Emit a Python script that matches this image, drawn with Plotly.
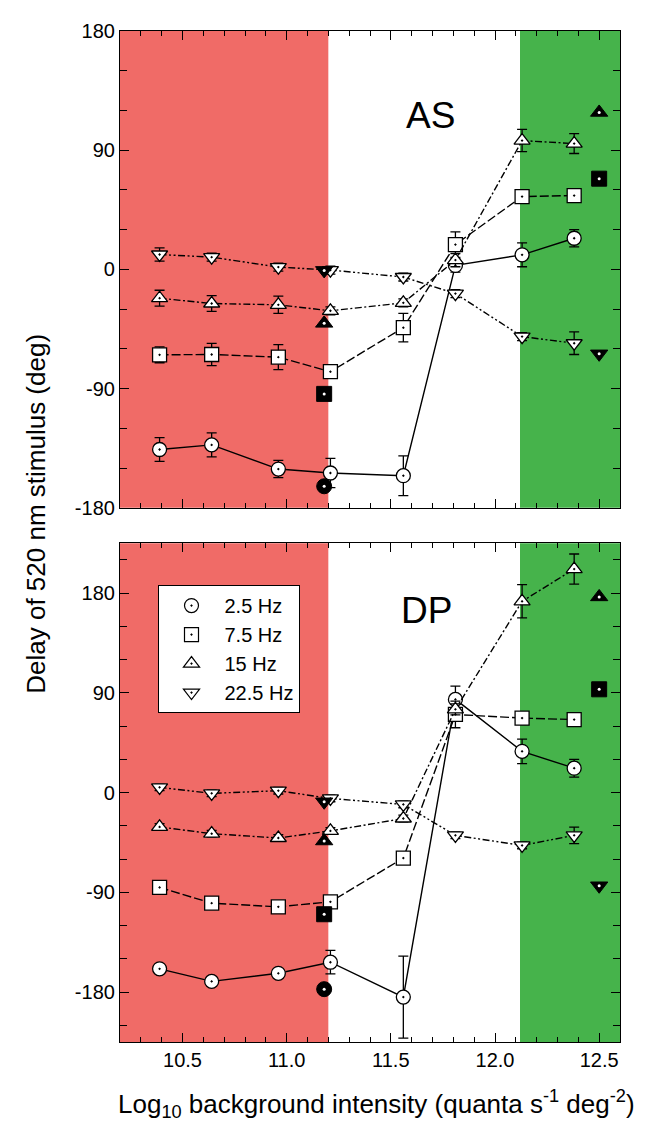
import plotly.graph_objects as go

# ---------------- data ----------------
x_int = [10.39, 10.64, 10.96, 11.21, 11.56, 11.81, 12.13, 12.38]
x_fill_low = 11.18
x_fill_high = 12.50

freqs = ["2.5 Hz", "7.5 Hz", "15 Hz", "22.5 Hz"]

# Subject AS
as_c25 = [-136, -132.5, -150.75, -153.75, -155.75, 3, 11, 23.5]
as_c25_err = [9, 9, 6.5, 11, 15, 5, 9, 6.5]
as_s75 = [-64.5, -64.25, -66.25, -77.25, -44, 18.75, 55, 55.75]
as_s75_err = [6, 8.4, 9.5, 3, 10.75, 9.6, 3, 3]
as_t15 = [-21.75, -25.75, -26.75, -31.25, -25.25, 7, 97.25, 95]
as_t15_err = [6, 6, 6.5, 3, 3, 5, 8.4, 7.5]
as_d225 = [11.25, 9.25, 1.75, -0.5, -5.75, -18.25, -50.75, -55.75]
as_d225_err = [5, 3, 3, 3, 3, 3, 3, 8.5]
# filled (reference) points: [at low x, at high x] ; None = absent
as_fill = {
    "2.5 Hz": [-163.75, None],
    "7.5 Hz": [-94, 68.5],
    "15 Hz": [-40.75, 118.5],
    "22.5 Hz": [-0.75, -63.75],
}

# Subject DP
dp_c25 = [-159, -170.3, -163, -153, -184.5, 84.2, 37.3, 22.1]
dp_c25_err = [3, 3, 3, 10.6, 37, 12, 11, 8]
dp_s75 = [-85.5, -99.7, -103, -98.5, -59, 70.6, 67.3, 66]
dp_s75_err = [3, 3, 3, 3, 3, 12, 3, 3]
dp_t15 = [-30.9, -37, -40.9, -34.5, -23.3, 75.2, 172.7, 201.8]
dp_t15_err = [3, 3, 3, 3, 3, 5, 15, 13.6]
dp_d225 = [4.8, -0.6, 1.8, -5.2, -10.6, -38.5, -47.6, -38.5]
dp_d225_err = [3, 3, 3, 3, 3, 3, 3, 7.5]
dp_fill = {
    "2.5 Hz": [-177.3, None],
    "7.5 Hz": [-109.7, 93.3],
    "15 Hz": [-43.6, 176.7],
    "22.5 Hz": [-8.2, -84],
}

red_band = [10.2, 11.20]
green_band = [12.12, 12.6]
x_range = [10.2, 12.6]
y_range_as = [-180, 180]
y_range_dp = [-225, 225]
x_ticks = [10.5, 11.0, 11.5, 12.0, 12.5]
y_ticks = [-180, -90, 0, 90, 180]

# ---------------- styles ----------------
RED = "#F06B67"
GREEN = "#46B34B"
FONT = "Liberation Sans, Arial, sans-serif"
symbols = {"2.5 Hz": "circle", "7.5 Hz": "square", "15 Hz": "triangle-up", "22.5 Hz": "triangle-down"}
dashes = {
    "2.5 Hz": "solid",
    "7.5 Hz": "9px,3px",
    "15 Hz": "7px,2.5px,2px,2.5px",
    "22.5 Hz": "7px,2.5px,2px,2.5px,2px,2.5px",
}
MS = 14
MS_FILL = 15

fig = go.Figure()

panels = [
    ("x", "y", {"2.5 Hz": (as_c25, as_c25_err), "7.5 Hz": (as_s75, as_s75_err),
                "15 Hz": (as_t15, as_t15_err), "22.5 Hz": (as_d225, as_d225_err)}, as_fill),
    ("x2", "y2", {"2.5 Hz": (dp_c25, dp_c25_err), "7.5 Hz": (dp_s75, dp_s75_err),
                  "15 Hz": (dp_t15, dp_t15_err), "22.5 Hz": (dp_d225, dp_d225_err)}, dp_fill),
]

for xa, ya, series, fills in panels:
    for f in freqs:
        vals, err = series[f]
        fig.add_trace(go.Scatter(
            x=x_int, y=vals, mode="lines+markers", xaxis=xa, yaxis=ya,
            line=dict(color="black", width=1.4, dash=dashes[f]),
            marker=dict(symbol=symbols[f] + "-dot", size=MS, color="white",
                        line=dict(color="black", width=1.3)),
            error_y=dict(type="data", array=err, visible=True, color="black",
                         thickness=1.3, width=5),
            showlegend=False, hoverinfo="skip",
        ))
    for f in freqs:
        fx, fy = [], []
        for xv, yv in zip([x_fill_low, x_fill_high], fills[f]):
            if yv is not None:
                fx.append(xv)
                fy.append(yv)
        fig.add_trace(go.Scatter(
            x=fx, y=fy, mode="markers", xaxis=xa, yaxis=ya,
            marker=dict(symbol=symbols[f], size=MS_FILL, color="black",
                        line=dict(color="black", width=1)),
            showlegend=False, hoverinfo="skip",
        ))
        fig.add_trace(go.Scatter(
            x=fx, y=fy, mode="markers", xaxis=xa, yaxis=ya,
            marker=dict(symbol="circle", size=3, color="white", line=dict(width=0)),
            showlegend=False, hoverinfo="skip",
        ))

# legend entries
for f in freqs:
    fig.add_trace(go.Scatter(
        x=[None], y=[None], mode="markers", name=f, xaxis="x2", yaxis="y2",
        marker=dict(symbol=symbols[f] + "-dot", size=MS, color="white",
                    line=dict(color="black", width=1.2)),
    ))

# background bands
for xref, yref in [("x", "y domain"), ("x2", "y2 domain")]:
    fig.add_shape(type="rect", xref=xref, yref=yref, x0=red_band[0], x1=red_band[1],
                  y0=0, y1=1, fillcolor=RED, line=dict(width=0), layer="below")
    fig.add_shape(type="rect", xref=xref, yref=yref, x0=green_band[0], x1=green_band[1],
                  y0=0, y1=1, fillcolor=GREEN, line=dict(width=0), layer="below")

xaxis_common = dict(
    range=x_range, tickvals=x_ticks, ticktext=[f"{v:.1f}" for v in x_ticks],
    ticks="inside", ticklen=9, tickwidth=1, tickcolor="black",
    minor=dict(dtick=0.1, tick0=10.2, ticks="inside", ticklen=5, tickwidth=1, tickcolor="black"),
    showline=True, linecolor="black", linewidth=1.2, mirror="ticks",
    showgrid=False, zeroline=False,
    tickfont=dict(size=20, color="black", family=FONT),
)
yaxis_common = dict(
    tickvals=y_ticks, ticktext=[str(v) for v in y_ticks],
    ticks="inside", ticklen=9, tickwidth=1, tickcolor="black",
    minor=dict(dtick=30, tick0=0, ticks="inside", ticklen=7, tickwidth=1, tickcolor="black"),
    showline=True, linecolor="black", linewidth=1.2, mirror="ticks",
    showgrid=False, zeroline=False,
    tickfont=dict(size=20, color="black", family=FONT),
)

fig.update_layout(
    width=636, height=1114,
    margin=dict(l=112, r=24, t=12, b=80),
    paper_bgcolor="white", plot_bgcolor="white",
    font=dict(family=FONT, color="black"),
    xaxis=dict(**xaxis_common, anchor="y", showticklabels=False, matches="x2"),
    yaxis=dict(**yaxis_common, range=y_range_as, domain=[0.5284, 1.0], anchor="x"),
    xaxis2=dict(**xaxis_common, anchor="y2"),
    yaxis2=dict(**yaxis_common, range=y_range_dp, domain=[0.0, 0.4932], anchor="x2"),
    legend=dict(x=0.075, y=0.452, xanchor="left", yanchor="top",
                bgcolor="white", bordercolor="black", borderwidth=1,
                font=dict(size=20, family=FONT, color="black"),
                itemwidth=56, tracegroupgap=0),
    annotations=[
        dict(text="AS", x=11.69, y=116, xref="x", yref="y", showarrow=False,
             font=dict(size=37, family=FONT, color="black")),
        dict(text="DP", x=11.67, y=164.5, xref="x2", yref="y2", showarrow=False,
             font=dict(size=37, family=FONT, color="black")),
        dict(text="Delay of 520 nm stimulus (deg)", x=-0.168, y=0.5225, xref="paper", yref="paper",
             textangle=-90, showarrow=False, xanchor="center", yanchor="middle",
             font=dict(size=26, family=FONT, color="black")),
        dict(text="Log<sub>10</sub> background intensity (quanta s<sup>-1</sup> deg<sup>-2</sup>)",
             x=0.512, y=-0.061, xref="paper", yref="paper", showarrow=False,
             xanchor="center", yanchor="middle",
             font=dict(size=26, family=FONT, color="black")),
    ],
)

fig.write_html("out.html")
